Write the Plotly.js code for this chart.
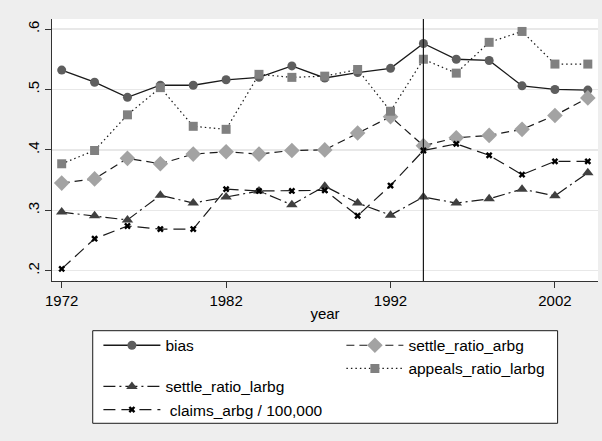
<!DOCTYPE html>
<html><head><meta charset="utf-8">
<script src="https://cdn.plot.ly/plotly-3.0.1.min.js"></script>
<style>html,body{margin:0;padding:0;background:#eeeeee}#chart{width:602px;height:441px}</style>
</head><body><div id="chart"></div>
<script>
const years = [1972,1974,1976,1978,1980,1982,1984,1986,1988,1990,1992,1994,1996,1998,2000,2002,2004];
const bias = [0.532,0.512,0.487,0.507,0.507,0.516,0.520,0.539,0.519,0.528,0.535,0.576,0.550,0.548,0.506,0.500,0.499];
const settleRatioArbg = [0.345,0.352,0.386,0.377,0.393,0.397,0.393,0.399,0.400,0.428,0.455,0.407,0.420,0.424,0.434,0.457,0.486];
const appealsRatioLarbg = [0.377,0.399,0.458,0.503,0.439,0.434,0.525,0.520,0.522,0.533,0.464,0.550,0.527,0.578,0.596,0.542,0.542];
const settleRatioLarbg = [0.297,0.291,0.284,0.325,0.312,0.322,0.332,0.309,0.340,0.312,0.292,0.322,0.312,0.319,0.335,0.324,0.362];
const claimsArbg = [0.203,0.253,0.274,0.269,0.269,0.335,0.332,0.332,0.333,0.291,0.341,0.399,0.410,0.391,0.359,0.381,0.381];
const refYear = 1994;
const yTicks = [0.2,0.3,0.4,0.5,0.6];
const yTickText = ['.2','.3','.4','.5','.6'];
const xTicks = [1972,1982,1992,2002];

const traces = [
  {name:'bias', x:years, y:bias, mode:'lines+markers', legend:'legend', legendgroup:'a',
   line:{color:'#1a1a1a', width:1.3}, marker:{symbol:'circle', size:9, color:'#5e5e5e'}},
  {name:'settle_ratio_arbg', x:years, y:settleRatioArbg, mode:'lines+markers', legend:'legend2',
   line:{color:'#1a1a1a', width:1.2, dash:'8px,5px'}, marker:{symbol:'diamond', size:12, color:'#a3a3a3'}},
  {name:'appeals_ratio_larbg', x:years, y:appealsRatioLarbg, mode:'lines+markers', legend:'legend2',
   line:{color:'#1a1a1a', width:1.2, dash:'1.5px,3px'}, marker:{symbol:'square', size:9, color:'#808080'}},
  {name:'settle_ratio_larbg', x:years, y:settleRatioLarbg, mode:'lines+markers', legend:'legend', legendgroup:'b',
   line:{color:'#1a1a1a', width:1.2, dash:'12px,4px,2px,4px'}, marker:{symbol:'triangle-up', size:10, color:'#404040'}},
  {name:' claims_arbg / 100,000', x:years, y:claimsArbg, mode:'lines+markers', legend:'legend', legendgroup:'b',
   line:{color:'#1a1a1a', width:1.2, dash:'12px,6px'}, marker:{symbol:'x', size:6, color:'#000000', line:{width:0}}}
];

const fnt = {family:'"Liberation Sans", Arial, sans-serif', size:15, color:'#000'};
const legFnt = {family:'"Liberation Sans", Arial, sans-serif', size:15.5, color:'#000'};
const layout = {
  width:602, height:441,
  margin:{l:52, r:4, t:19, b:160},
  paper_bgcolor:'#eeeeee', plot_bgcolor:'#ffffff',
  font:fnt,
  showlegend:true,
  xaxis:{range:[1971.41,2004.62], tickvals:xTicks, ticks:'outside', ticklen:6, tickcolor:'#333',
         showgrid:false, zeroline:false, showline:true, linecolor:'#333', linewidth:1.2,
         title:{text:'year', font:fnt, standoff:0}, tickfont:fnt},
  yaxis:{range:[0.183,0.6166], tickvals:yTicks, ticktext:yTickText, tickangle:-90, ticks:'outside', ticklen:6, tickcolor:'#333',
         showgrid:true, gridcolor:'#e8e8e8', gridwidth:1.5, zeroline:false, showline:true, linecolor:'#333', linewidth:1.2, tickfont:fnt},
  legend:{x:0.085, y:-0.182, xanchor:'left', yanchor:'top', bgcolor:'rgba(0,0,0,0)', borderwidth:0,
          traceorder:'grouped', tracegroupgap:18, itemwidth:57, font:legFnt},
  legend2:{x:0.53, y:-0.182, xanchor:'left', yanchor:'top', bgcolor:'rgba(0,0,0,0)', borderwidth:0,
          itemwidth:57, font:legFnt},
  shapes:[
    {type:'line', xref:'x', yref:'paper', x0:refYear, x1:refYear, y0:0, y1:1, line:{color:'#1a1a1a', width:1.2}},
    {type:'rect', xref:'paper', yref:'paper', x0:0.0746, x1:0.926, y0:-0.5431, y1:-0.1897,
     fillcolor:'#ffffff', line:{color:'#1a1a1a', width:1}, layer:'below'}
  ]
};
Plotly.newPlot('chart', traces, layout, {displayModeBar:false, staticPlot:true});
</script></body></html>
